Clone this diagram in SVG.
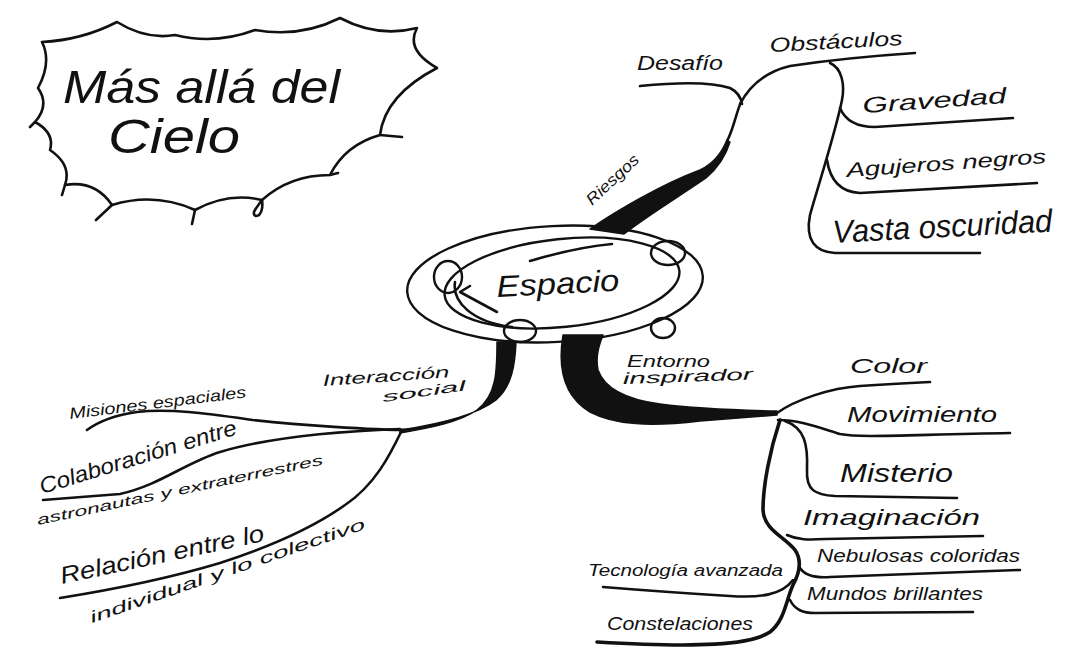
<svg xmlns="http://www.w3.org/2000/svg" width="1065" height="664" viewBox="0 0 1065 664">
<style>
.hw{font-family:"Liberation Sans","DejaVu Sans",sans-serif;font-style:italic;fill:#111;}
.ln{fill:none;stroke:#111;stroke-width:2.6;stroke-linecap:round;stroke-linejoin:round;}
.thk{fill:#111;stroke:#111;stroke-width:1.5;stroke-linejoin:round;}
.orb{fill:none;stroke:#111;stroke-width:2.4;}
</style>
<rect width="1065" height="664" fill="#fff"/>

<g id="title">
<path class="ln" d="M42,42 Q82,40 117,22 Q146,40 175,35 Q215,45 255,30 Q300,38 340,18 Q378,38 417,28 Q405,50 437,68 Q385,95 380,135 Q345,145 330,175 Q290,175 262,200 Q228,192 195,210 Q155,192 112,205 Q95,180 65,185 Q72,165 50,150 Q55,133 35,122 Q50,105 38,88 Q52,62 42,42 Z"/>
<path class="ln" d="M380,135 L402,137 M330,175 L338,173 M262,200 C258,206 250,214 256,216 C262,216 263,206 262,200 M195,210 L192,224 M112,205 L96,220 M65,185 L62,195 M35,122 L30,127"/>
<text class="hw" x="63" y="103" font-size="46" textLength="277" lengthAdjust="spacingAndGlyphs">Más allá del</text>
<text class="hw" x="108" y="153" font-size="48" textLength="132" lengthAdjust="spacingAndGlyphs">Cielo</text>
</g>

<g id="connectors">
<!-- Riesgos branch -->
<path class="thk" d="M590,229 C615,212 660,185 700,170 C715,163 722,152 727,140 L730,142 C726,155 720,166 706,178 C680,196 650,214 624,234 Z"/>
<path class="ln" d="M727,141 C734,128 736,112 742,100"/>
<path class="ln" d="M640,86 C680,82 712,82 730,88 C738,92 741,98 742,104"/>
<path class="ln" d="M740,104 C750,85 765,72 790,66 C830,60 870,56 915,53"/>
<path class="ln" d="M830,63 C842,68 845,85 842,100 C836,130 820,180 810,215 C805,240 815,252 835,253 L980,253"/>
<path class="ln" d="M840,108 C845,120 855,127 875,127 L1013,118"/>
<path class="ln" d="M827,160 C830,180 840,192 860,193 L1037,183"/>

<!-- Interaccion social branch -->
<path class="thk" d="M497,342 C497,370 497,395 477,410 C460,422 430,428 400,433 L400,430 C440,424 478,414 496,400 C512,386 515,365 516,342 Z"/>
<path class="ln" d="M410,430 C370,430 300,425 253,420 C210,414 170,408 137,412 C115,415 98,422 87,430"/>
<path class="ln" d="M400,429 C320,432 260,440 220,452 C185,463 160,485 120,494 L43,500"/>
<path class="ln" d="M402,430 C390,455 375,485 345,505 C310,530 260,550 220,563 C170,578 110,590 60,598"/>

<!-- Entorno inspirador branch -->
<path class="thk" d="M563,335 C558,365 562,395 590,412 C615,425 650,427 700,421 L777,415 L777,411 C730,410 690,408 660,404 C630,400 605,390 598,370 C595,355 600,343 603,335 Z"/>
<path class="ln" d="M777,413 C795,400 830,388 860,386 C890,384 910,383 930,382"/>
<path class="ln" d="M778,420 C800,420 820,428 840,434 C860,438 900,435 1010,433"/>
<path class="ln" d="M785,421 C805,428 808,445 807,470 C806,490 815,495 835,496 L957,498"/>
<path class="ln" style="stroke-width:3.6" d="M780,420 C770,450 763,485 763,510 C764,530 785,537 795,550 C802,560 800,572 793,585 C786,600 785,620 770,632 C750,645 700,648 597,642"/>
<path class="ln" d="M787,535 C798,540 808,540 825,539 L983,536"/>
<path class="ln" d="M800,568 C805,576 815,578 830,577 L1020,570"/>
<path class="ln" d="M790,600 C795,610 803,613 815,613 L973,612"/>
<path class="ln" d="M603,587 C640,590 680,593 730,596 C760,598 782,595 793,580"/>
</g>

<g id="center">
<ellipse class="orb" cx="555" cy="284" rx="148" ry="58" transform="rotate(-3 555 284)"/>
<ellipse class="orb" cx="562" cy="283" rx="118" ry="44" transform="rotate(-6 562 283)"/>
<path class="ln" d="M455,282 C452,302 472,322 512,327"/>
<path class="ln" d="M530,261 C560,252 590,246 612,244"/>
<path class="ln" d="M470,286 L460,292 L497,312"/>
<ellipse class="orb" cx="448" cy="277" rx="14" ry="16"/>
<ellipse class="orb" cx="668" cy="253" rx="17" ry="12"/>
<ellipse class="orb" cx="520" cy="331" rx="16" ry="11"/>
<ellipse class="orb" cx="663" cy="328" rx="12" ry="10"/>
<text class="hw" x="497" y="297" font-size="30" textLength="123" lengthAdjust="spacingAndGlyphs" transform="rotate(-3 497 297)">Espacio</text>
</g>

<g id="riesgos"><text class="hw" x="592" y="206" font-size="16" textLength="66" lengthAdjust="spacingAndGlyphs" transform="rotate(-43 592 206)">Riesgos</text></g>
<g id="desafio"><text class="hw" x="637" y="70" font-size="20" textLength="86" lengthAdjust="spacingAndGlyphs">Desafío</text></g>
<g id="obstaculos"><text class="hw" x="770" y="52" font-size="20" textLength="133" lengthAdjust="spacingAndGlyphs" transform="rotate(-3 770 52)">Obstáculos</text></g>
<g id="gravedad"><text class="hw" x="863" y="113" font-size="22" textLength="144" lengthAdjust="spacingAndGlyphs" transform="rotate(-4 863 113)">Gravedad</text></g>
<g id="agujeros"><text class="hw" x="847" y="177" font-size="20" textLength="200" lengthAdjust="spacingAndGlyphs" transform="rotate(-4 847 177)">Agujeros negros</text></g>
<g id="vasta"><text class="hw" x="833" y="243" font-size="32" textLength="220" lengthAdjust="spacingAndGlyphs" transform="rotate(-3 833 243)">Vasta oscuridad</text></g>

<g id="interaccion">
<text class="hw" x="323" y="386" font-size="16" textLength="127" lengthAdjust="spacingAndGlyphs" transform="rotate(-4 323 386)">Interacción</text>
<text class="hw" x="383" y="402" font-size="14" textLength="84" lengthAdjust="spacingAndGlyphs" transform="rotate(-8 383 402)">social</text>
</g>
<g id="misiones"><text class="hw" x="70" y="419" font-size="16" textLength="178" lengthAdjust="spacingAndGlyphs" transform="rotate(-7 70 419)">Misiones espaciales</text></g>
<g id="colaboracion">
<text class="hw" x="42" y="494" font-size="22" textLength="205" lengthAdjust="spacingAndGlyphs" transform="rotate(-17 42 494)">Colaboración entre</text>
<text class="hw" x="38" y="525" font-size="14" textLength="292" lengthAdjust="spacingAndGlyphs" transform="rotate(-12 38 525)">astronautas y extraterrestres</text>
</g>
<g id="relacion">
<text class="hw" x="62" y="584" font-size="24" textLength="208" lengthAdjust="spacingAndGlyphs" transform="rotate(-12 62 584)">Relación entre lo</text>
<text class="hw" x="92" y="623" font-size="16" textLength="290" lengthAdjust="spacingAndGlyphs" transform="rotate(-19 92 623)">individual y lo colectivo</text>
</g>

<g id="entorno">
<text class="hw" x="627" y="367" font-size="16" textLength="83" lengthAdjust="spacingAndGlyphs">Entorno</text>
<text class="hw" x="623" y="384" font-size="16" textLength="130" lengthAdjust="spacingAndGlyphs" transform="rotate(-2 623 384)">inspirador</text>
</g>
<g id="color"><text class="hw" x="850" y="373" font-size="20" textLength="77" lengthAdjust="spacingAndGlyphs">Color</text></g>
<g id="movimiento"><text class="hw" x="847" y="422" font-size="22" textLength="150" lengthAdjust="spacingAndGlyphs">Movimiento</text></g>
<g id="misterio"><text class="hw" x="840" y="482" font-size="26" textLength="113" lengthAdjust="spacingAndGlyphs">Misterio</text></g>
<g id="imaginacion"><text class="hw" x="803" y="525" font-size="22" textLength="177" lengthAdjust="spacingAndGlyphs">Imaginación</text></g>
<g id="nebulosas"><text class="hw" x="817" y="562" font-size="18" textLength="203" lengthAdjust="spacingAndGlyphs">Nebulosas coloridas</text></g>
<g id="mundos"><text class="hw" x="807" y="600" font-size="18" textLength="176" lengthAdjust="spacingAndGlyphs">Mundos brillantes</text></g>
<g id="tecnologia"><text class="hw" x="588" y="576" font-size="16" textLength="195" lengthAdjust="spacingAndGlyphs">Tecnología avanzada</text></g>
<g id="constelaciones"><text class="hw" x="607" y="630" font-size="18" textLength="146" lengthAdjust="spacingAndGlyphs">Constelaciones</text></g>
</svg>
